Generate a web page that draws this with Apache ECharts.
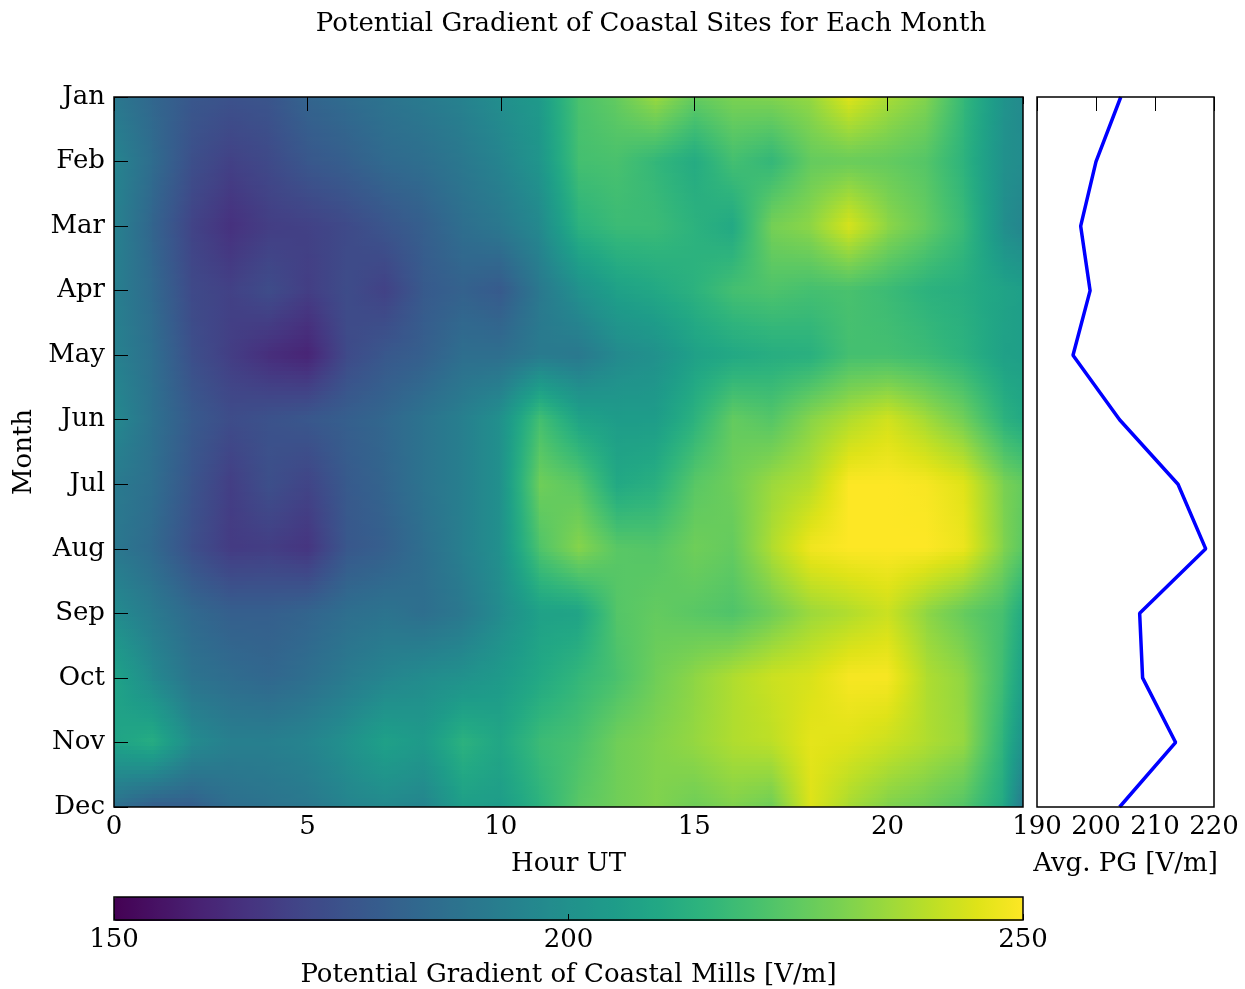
<!DOCTYPE html>
<html><head><meta charset="utf-8">
<script src="https://cdn.jsdelivr.net/npm/echarts@6/dist/echarts.min.js"></script>
<style>html,body{margin:0;padding:0;background:#fff}#c{width:1245px;height:989px}</style>
</head><body><div id="c"></div>
<script>
// ---------- data ----------
const months = ['Jan','Feb','Mar','Apr','May','Jun','Jul','Aug','Sep','Oct','Nov','Dec'];
const hours = [0,1,2,3,4,5,6,7,8,9,10,11,12,13,14,15,16,17,18,19,20,21,22,23,23.5];
const pgJan = [190,183,177,175,176,182,185,188,191,194,199,204,221,226,235,226,230,231,234,245,237,231,216,201,197];
const pgFeb = [195,185,174,169,172,177,180,184,186,190,195,202,220,221,216,211,220,216,226,227,226,223,214,200,198];
const pgMar = [194,182,170,164,168,169,172,176,180,186,190,197,214,218,218,214,210,229,233,244,233,226,217,199,195];
const pgApr = [193,184,172,169,173,168,173,169,178,181,178,190,200,207,210,214,220,222,220,221,218,214,212,208,206];
const pgMay = [194,186,174,168,163,160,172,177,180,186,186,191,190,197,200,207,210,212,213,220,220,218,214,207,206];
const pgJun = [197,187,178,173,175,177,180,183,188,193,200,220,208,205,205,214,226,223,232,238,243,236,228,214,210];
const pgJul = [191,186,176,168,174,170,178,182,188,193,200,228,224,210,213,224,228,235,239,250,250,249,245,230,226];
const pgAug = [190,184,174,167,168,165,177,180,186,193,200,222,232,224,223,228,226,238,248,250,250,250,247,231,224];
const pgSep = [198,191,184,180,180,182,186,188,186,190,198,207,208,223,226,224,222,228,235,238,242,233,226,220,210];
const pgOct = [208,197,188,185,183,186,191,195,198,200,204,210,216,221,228,233,238,242,244,249,249,238,233,218,206];
const pgNov = [208,212,198,193,193,195,200,207,204,214,209,218,221,228,231,234,238,240,246,245,242,238,234,214,200];
const pgDec = [187,180,180,186,188,190,195,197,195,206,205,214,224,228,231,228,231,228,245,237,231,228,223,210,190];
const avgPG = [204.2,200.0,197.4,199.0,196.1,204.0,213.9,218.6,207.4,207.9,213.5,204.0];
const hourTicks = [0,5,10,15,20];
const avgTicks = [190,200,210,220];
const cbarTicks = [150,200,250];
const viridis = ['#440154','#471365','#482475','#463480','#414487','#3b528b','#355f8d','#2f6c8e','#2a788e','#25848e',
                 '#21918c','#1e9c89','#22a884','#2fb47c','#44bf70','#5ec962','#7ad151','#9bd93c','#bddf26','#dfe318','#fde725'];

// ---------- build ----------
const pgGrid = [pgJan,pgFeb,pgMar,pgApr,pgMay,pgJun,pgJul,pgAug,pgSep,pgOct,pgNov,pgDec];
const vmin = cbarTicks[0], vmax = cbarTicks[cbarTicks.length-1];
const virRGB = viridis.map(h => [parseInt(h.slice(1,3),16), parseInt(h.slice(3,5),16), parseInt(h.slice(5,7),16)]);
function vir(v){
  let t = (v - vmin) / (vmax - vmin); t = Math.max(0, Math.min(1, t));
  const n = virRGB.length - 1, s = t * n, i = Math.min(n - 1, Math.floor(s)), f = s - i;
  const a = virRGB[i], b = virRGB[i+1];
  return 'rgb(' + Math.round(a[0]+(b[0]-a[0])*f) + ',' + Math.round(a[1]+(b[1]-a[1])*f) + ',' + Math.round(a[2]+(b[2]-a[2])*f) + ')';
}
const cells = [];
for (let j = 0; j < pgGrid.length - 1; j++) {
  for (let i = 0; i < hours.length - 1; i++) {
    cells.push([hours[i], j, hours[i+1], j+1, pgGrid[j][i], pgGrid[j][i+1], pgGrid[j+1][i], pgGrid[j+1][i+1]]);
  }
}
function renderCell(params, api){
  const x0 = api.value(0), y0 = api.value(1), x1 = api.value(2), y1 = api.value(3);
  const v00 = api.value(4), v10 = api.value(5), v01 = api.value(6), v11 = api.value(7);
  const p0 = api.coord([x0, y0]), p1 = api.coord([x1, y1]);
  const xl = Math.floor(Math.min(p0[0], p1[0])), xr = Math.ceil(Math.max(p0[0], p1[0]));
  const h = Math.abs(p1[1] - p0[1]);
  const topDown = p0[1] < p1[1];
  const top = Math.min(p0[1], p1[1]);
  const S = 16, children = [];
  for (let k = 0; k < S; k++) {
    let t = (k + 0.5) / S; if (!topDown) t = 1 - t;
    const vL = v00 + (v01 - v00) * t, vR = v10 + (v11 - v10) * t;
    const stops = [];
    for (let f = 0; f <= 4; f++) { const fr = f / 4; stops.push({offset: fr, color: vir(vL + (vR - vL) * fr)}); }
    const ya = Math.floor(top + k * h / S), yb = Math.ceil(top + (k + 1) * h / S);
    children.push({type: 'rect', silent: true,
      shape: {x: xl, y: ya, width: xr - xl + 1, height: yb - ya + 1},
      style: {fill: {type: 'linear', x: 0, y: 0, x2: 1, y2: 0, colorStops: stops}}});
  }
  return {type: 'group', children: children};
}

const FONT = 'DejaVu Serif', FS = 26;
const txt = {fontFamily: FONT, fontSize: FS, color: '#000'};
// ticks are drawn pointing into the frame: each axis is shifted inward by the tick length
const TL = 7;
const ticks = len => ({show: true, length: len, lineStyle: {color: '#000', width: 1}});

const option = {
  animation: false,
  backgroundColor: '#fff',
  title: {text: 'Potential Gradient of Coastal Sites for Each Month', left: 646, top: 6, textAlign: 'center',
          textStyle: Object.assign({fontWeight: 'normal'}, txt)},
  grid: [
    {left: 114, top: 97, width: 909, height: 710, show: true, borderColor: '#000', borderWidth: 1.5, backgroundColor: 'rgba(0,0,0,0)', z: 4},
    {left: 1037, top: 97, width: 177, height: 710, show: true, borderColor: '#000', borderWidth: 1.5, backgroundColor: 'rgba(0,0,0,0)', z: 4},
    {left: 114, top: 897, width: 909, height: 24, show: true, borderColor: '#000', borderWidth: 1.5, backgroundColor: 'rgba(0,0,0,0)', z: 10}
  ],
  xAxis: [
    {gridIndex: 0, type: 'value', position: 'bottom', offset: -TL, min: 0, max: 23.5, interval: 5, z: 5,
     axisLine: {show: false}, axisTick: ticks(TL), splitLine: {show: false},
     axisLabel: Object.assign({margin: 7 + TL, showMaxLabel: false, formatter: v => hourTicks.indexOf(v) >= 0 ? String(v) : ''}, txt),
     name: 'Hour UT', nameLocation: 'middle', nameGap: 44 + TL, nameTextStyle: txt},
    {gridIndex: 0, type: 'value', position: 'top', offset: -TL, min: 0, max: 23.5, interval: 5, z: 5,
     axisLine: {show: false}, axisTick: ticks(TL), splitLine: {show: false}, axisLabel: {show: false}},
    {gridIndex: 1, type: 'value', position: 'bottom', offset: -TL, min: avgTicks[0], max: avgTicks[avgTicks.length-1], interval: 10, z: 5,
     axisLine: {show: false}, axisTick: ticks(TL), splitLine: {show: false},
     axisLabel: Object.assign({margin: 7 + TL}, txt),
     name: 'Avg. PG [V/m]', nameLocation: 'middle', nameGap: 44 + TL, nameTextStyle: txt},
    {gridIndex: 1, type: 'value', position: 'top', offset: -TL, min: avgTicks[0], max: avgTicks[avgTicks.length-1], interval: 10, z: 5,
     axisLine: {show: false}, axisTick: ticks(TL), splitLine: {show: false}, axisLabel: {show: false}},
    {gridIndex: 2, type: 'value', position: 'bottom', offset: -6, min: vmin, max: vmax, interval: 50, z: 11,
     axisLine: {show: false}, axisTick: ticks(6), splitLine: {show: false},
     axisLabel: Object.assign({margin: 13}, txt),
     name: 'Potential Gradient of Coastal Mills [V/m]', nameLocation: 'middle', nameGap: 48, nameTextStyle: txt}
  ],
  yAxis: [
    {gridIndex: 0, type: 'value', position: 'left', offset: -TL, inverse: true, min: 0, max: 11, interval: 1, z: 5,
     axisLine: {show: false}, axisTick: ticks(TL), splitLine: {show: false},
     axisLabel: Object.assign({margin: 9 + TL, formatter: v => months[v] || ''}, txt),
     name: 'Month', nameLocation: 'middle', nameRotate: 90, nameGap: 73 + TL, nameTextStyle: txt},
    {gridIndex: 0, type: 'value', position: 'right', offset: -TL, inverse: true, min: 0, max: 11, interval: 1, z: 5,
     axisLine: {show: false}, axisTick: ticks(TL), splitLine: {show: false}, axisLabel: {show: false}},
    {gridIndex: 1, type: 'value', inverse: true, min: 0, max: 11, interval: 1,
     axisLine: {show: false}, axisTick: {show: false}, splitLine: {show: false}, axisLabel: {show: false}},
    {gridIndex: 2, type: 'value', min: 0, max: 1, show: false}
  ],
  visualMap: {
    type: 'continuous', min: vmin, max: vmax, seriesIndex: 0, dimension: 4,
    orient: 'horizontal', left: 114, top: 897, itemWidth: 24, itemHeight: 909, padding: 0,
    calculable: false, realtime: false, inRange: {color: viridis}, textStyle: txt
  },
  series: [
    {type: 'custom', xAxisIndex: 0, yAxisIndex: 0, renderItem: renderCell, data: cells,
     encode: {x: [0, 2], y: [1, 3]}, clip: true, silent: true, z: 2, progressive: 0},
    {type: 'line', xAxisIndex: 2, yAxisIndex: 2, data: avgPG.map((v, i) => [v, i]),
     symbol: 'none', lineStyle: {color: '#0000ff', width: 3.5}, silent: true, z: 3}
  ]
};
const chart = echarts.init(document.getElementById('c'), null, {renderer: 'canvas'});
chart.setOption(option);
</script></body></html>
